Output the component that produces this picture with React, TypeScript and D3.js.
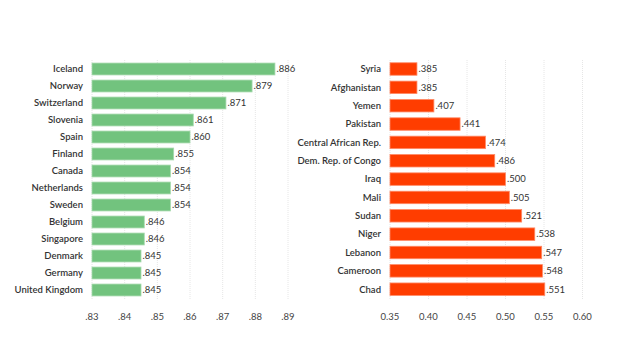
import React from "react";
import * as d3 from "d3";

const topCountries = ["Iceland","Norway","Switzerland","Slovenia","Spain","Finland","Canada","Netherlands","Sweden","Belgium","Singapore","Denmark","Germany","United Kingdom"];
const topValues = [0.886,0.879,0.871,0.861,0.860,0.855,0.854,0.854,0.854,0.846,0.846,0.845,0.845,0.845];
const topTicks = [0.83,0.84,0.85,0.86,0.87,0.88,0.89];

const bottomCountries = ["Syria","Afghanistan","Yemen","Pakistan","Central African Rep.","Dem. Rep. of Congo","Iraq","Mali","Sudan","Niger","Lebanon","Cameroon","Chad"];
const bottomValues = [0.385,0.385,0.407,0.441,0.474,0.486,0.500,0.505,0.521,0.538,0.547,0.548,0.551];
const bottomTicks = [0.35,0.40,0.45,0.50,0.55,0.60];

const FONT = "Lato, 'Open Sans', sans-serif";
const stripZero = (s: string) => s.replace(/^0\./, ".");

function Panel({ names, values, ticks, domain, range, color, stroke, tickFmt, labelX, step, pad }: any) {
  const top = 69 - step / 2;
  const y = d3.scaleBand<string>().domain(names).range([top, top + step * names.length]).paddingInner(pad).paddingOuter(pad / 2);
  const x = d3.scaleLinear().domain(domain).range(range);
  const gridTop = 60;
  const gridBottom = 300;
  return (
    <g>
      {ticks.map((t: number) => (
        <g key={t}>
          <line x1={x(t)} x2={x(t)} y1={gridTop} y2={gridBottom} stroke="#e6e6e6" strokeWidth={1} strokeDasharray="1,1" />
          <text x={x(t)} y={320} textAnchor="middle" fontSize={9.5} fill="#444" fontFamily={FONT}>{tickFmt(t)}</text>
        </g>
      ))}
      {names.map((n: string, i: number) => {
        const yy = y(n) as number;
        const bw = y.bandwidth();
        const x0 = x(domain[0]);
        const x1 = x(values[i]);
        return (
          <g key={n}>
            <rect x={x0} y={yy} width={x1 - x0} height={bw} fill={color} stroke={stroke} strokeWidth={0.8} />
            <text x={labelX} y={yy + bw / 2} dy="0.35em" textAnchor="end" fontSize={9.5} fontWeight={600} fill="#333" fontFamily={FONT}>{n}</text>
            <text x={x1 + 1.5} y={yy + bw / 2} dy="0.35em" fontSize={9.5} fill="#333" fontFamily={FONT}>{stripZero(d3.format(".3f")(values[i]))}</text>
          </g>
        );
      })}
    </g>
  );
}

export default function App() {
  return (
    <svg width={620} height={360} style={{ position: "fixed", left: 0, top: 0, background: "#fff" }}>
      <rect width={620} height={360} fill="#fff" />
      <Panel names={topCountries} values={topValues} ticks={topTicks} domain={[0.83, 0.89]} range={[92, 288]}
        color="#72c37e" stroke="#a6d9ad" tickFmt={(t: number) => stripZero(d3.format(".2f")(t))} labelX={83} step={17} pad={0.3} />
      <Panel names={bottomCountries} values={bottomValues} ticks={bottomTicks} domain={[0.35, 0.60]} range={[390, 582.5]}
        color="#ff3d00" stroke="#ff8a66" tickFmt={(t: number) => d3.format(".2f")(t)} labelX={381} step={18.35} pad={0.32} />
    </svg>
  );
}
